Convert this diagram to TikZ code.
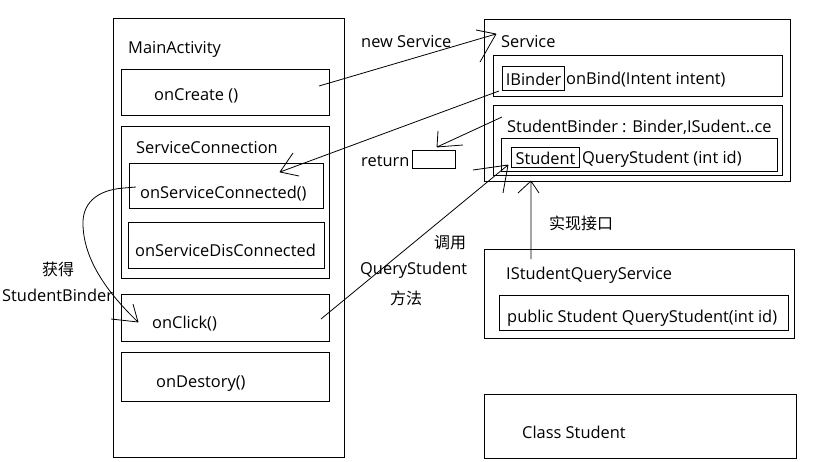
\documentclass[tikz,border=0pt]{standalone}
\usepackage{fontspec}
\setmainfont{Open Sans}
\newfontfamily\cjk{Noto Sans CJK SC}
\begin{document}
\begin{tikzpicture}[x=1pt,y=-1pt,
  box/.style={draw,line width=1pt,anchor=north west,inner sep=0pt},
  lbl/.style={anchor=west,inner sep=0pt,yshift=-1.5pt,font=\fontsize{16.4}{18}\selectfont},
  clbl/.style={anchor=west,inner sep=0pt,yshift=-1pt,font=\cjk\fontsize{16}{18}\selectfont},
  conn/.style={line width=0.8pt}]
\useasboundingbox[fill=white] (0,0) rectangle (826,462);
% MainActivity side
\node[box,minimum width=231pt,minimum height=439pt] (main) at (113,18) {};
\node[lbl] (tmain) at (128,48) {MainActivity};
\node[box,minimum width=208pt,minimum height=46pt] (create) at (121,69) {};
\node[lbl] (tcreate) at (154,94) {onCreate ()};
\node[box,minimum width=208pt,minimum height=152pt] (sconn) at (121,126) {};
\node[lbl] (tsconn) at (136,146) {ServiceConnection};
\node[box,minimum width=194pt,minimum height=45pt] (osc) at (129,163) {};
\node[lbl] (tosc) at (140,192) {onServiceConnected()};
\node[box,minimum width=196pt,minimum height=46pt] (osd) at (128,222) {};
\node[lbl] (tosd) at (135,249) {onServiceDisConnected};
\node[box,minimum width=208pt,minimum height=47pt] (click) at (121,294) {};
\node[lbl] (tclick) at (152,322) {onClick()};
\node[box,minimum width=208pt,minimum height=49pt] (destroy) at (121,352) {};
\node[lbl] (tdestroy) at (156,382) {onDestory()};
% Service side
\node[box,minimum width=306pt,minimum height=162pt] (service) at (484,19) {};
\node[lbl] (tservice) at (501,40) {Service};
\node[box,minimum width=289pt,minimum height=41pt] (bind) at (493,55) {};
\node[box,minimum width=62pt,minimum height=24pt] (ibinder) at (502,66) {};
\node[inner sep=0pt,yshift=-1pt,font=\fontsize{16.4}{18}\selectfont] at (ibinder.center) {IBinder};
\node[lbl] (tbind) at (566,78) {onBind(Intent intent)};
\node[box,minimum width=289pt,minimum height=70pt] (sbinder) at (493,105) {};
\node[lbl] (tsbinder) at (507,126) {StudentBinder : Binder,ISudent..ce};
\node[box,minimum width=276pt,minimum height=33pt] (query) at (501,138) {};
\node[box,minimum width=68pt,minimum height=20pt] (student) at (511,147) {};
\node[inner sep=0pt,yshift=-1pt,font=\fontsize{16.4}{18}\selectfont] at (student.center) {Student};
\node[lbl] (tquery) at (582,158) {QueryStudent (int id)};
\node[box,minimum width=43pt,minimum height=18pt] (ret) at (412,150) {};
\node[lbl] (tret) at (361,160) {return};
\node[lbl] (tnew) at (361,40) {new Service};
% interface
\node[box,minimum width=310pt,minimum height=89pt] (iface) at (484,249) {};
\node[lbl] (tiface) at (506,274) {IStudentQueryService};
\node[box,minimum width=289pt,minimum height=35pt] (imeth) at (499,295) {};
\node[lbl] (timeth) at (507,317) {public Student QueryStudent(int id)};
\node[box,minimum width=312pt,minimum height=64pt] (cls) at (484,394) {};
\node[lbl] (tcls) at (522,431) {Class Student};
% labels
\node[clbl] (tget) at (42,268) {获得};
\node[lbl] (tgetsb) at (2,294) {StudentBinder};
\node[clbl] (tcall) at (434,242) {调用};
\node[lbl] (tcallq) at (360,269) {QueryStudent};
\node[clbl] (tcallm) at (390,297) {方法};
\node[clbl] (timpl) at (549,222) {实现接口};
% connectors
\coordinate (a1s) at (319,86); \coordinate (a1e) at (496,34);
\draw[conn] (a1s) -- (a1e) (a1e) -- ++(-20,-4) (a1e) -- ++(-16,28);
\coordinate (a2s) at (499,91); \coordinate (a2e) at (280,172);
\draw[conn] (a2s) -- (a2e) (a2e) -- ++(13,-19) (a2e) -- ++(19,4);
\coordinate (a3s) at (502,117); \coordinate (a3e) at (437,147);
\draw[conn] (a3s) -- (a3e) (a3e) -- ++(1,-16) (a3e) -- ++(26,-2);
\coordinate (a4s) at (321,319); \coordinate (a4e) at (508,165);
\draw[conn] (a4s) -- (a4e) (a4e) -- ++(-35,5) (a4e) -- ++(-5,28);
\coordinate (a5s) at (531,259); \coordinate (a5e) at (531,181);
\draw[conn] (a5s) -- (a5e) (a5e) -- ++(-13,12) (a5e) -- ++(8,12);
\coordinate (a6s) at (136,187); \coordinate (a6e) at (138,322);
\draw[conn] (a6s) -- (124,188) .. controls (95,190) and (82,205) .. (83,225)
  .. controls (84,265) and (115,300) .. (a6e);
\draw[conn] (a6e) -- ++(-5,-18) (a6e) -- ++(-27,-3);
\end{tikzpicture}
\end{document}
